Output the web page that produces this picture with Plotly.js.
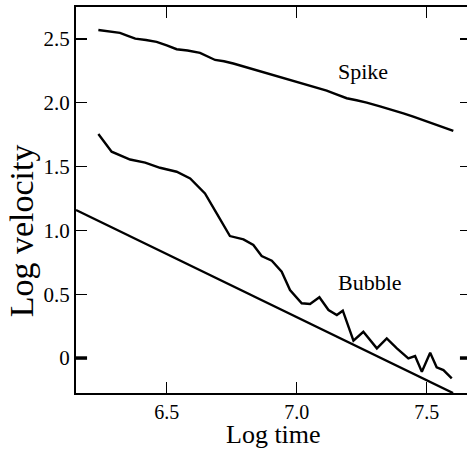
<!DOCTYPE html>
<html>
<head>
<meta charset="utf-8">
<script src="https://cdn.plot.ly/plotly-3.0.1.min.js"></script>
<style>
  html, body { margin: 0; padding: 0; overflow: hidden; background: #fff; }
  #chart { width: 475px; height: 449px; }
</style>
</head>
<body>
<div id="chart"></div>
<script>
// Spike curve (log time, log velocity)
const spikeX = [6.237, 6.28, 6.32, 6.35, 6.379, 6.42, 6.461, 6.50, 6.538, 6.58, 6.628, 6.686, 6.72, 6.756, 6.80, 6.846, 6.89, 6.936, 6.99, 7.038, 7.08, 7.115, 7.15, 7.192, 7.23, 7.269, 7.32, 7.372, 7.41, 7.448, 7.49, 7.525, 7.56, 7.602];
const spikeY = [2.571, 2.560, 2.548, 2.525, 2.503, 2.492, 2.478, 2.450, 2.420, 2.410, 2.392, 2.336, 2.326, 2.308, 2.282, 2.258, 2.232, 2.206, 2.175, 2.142, 2.120, 2.096, 2.068, 2.036, 2.020, 2.002, 1.972, 1.944, 1.918, 1.892, 1.862, 1.836, 1.812, 1.781];

// Bubble curve
const bubbleX = [6.237, 6.288, 6.359, 6.417, 6.474, 6.538, 6.590, 6.647, 6.692, 6.743, 6.795, 6.833, 6.865, 6.904, 6.942, 6.974, 7.019, 7.051, 7.087, 7.122, 7.154, 7.177, 7.218, 7.256, 7.308, 7.346, 7.385, 7.429, 7.455, 7.481, 7.513, 7.538, 7.564, 7.596];
const bubbleY = [1.755, 1.617, 1.556, 1.531, 1.491, 1.460, 1.408, 1.290, 1.134, 0.956, 0.930, 0.886, 0.799, 0.763, 0.677, 0.533, 0.429, 0.423, 0.476, 0.376, 0.337, 0.371, 0.136, 0.206, 0.076, 0.154, 0.076, -0.002, 0.016, -0.107, 0.042, -0.073, -0.094, -0.159];

// Straight reference line
const refX = [6.151, 7.601];
const refY = [1.160, -0.274];

// Tick values / labels
const xTickVals = [6.5, 7.0, 7.5];
const xTickText = ["6.5", "7.0", "7.5"];
const yTickVals = [0, 0.5, 1.0, 1.5, 2.0, 2.5];
const yTickText = ["0", "0.5", "1.0", "1.5", "2.0", "2.5"];

// Curve labels
const labelText = ["Spike", "Bubble"];
const labelX = [7.256, 7.282];
const labelY = [2.244, 0.590];

// Axis titles
const xTitle = "Log time";
const yTitle = "Log velocity";

const FONT = "Liberation Serif";
const lineStyle = { color: "#000", width: 2.4 };

const traces = [
  { x: spikeX, y: spikeY, type: "scatter", mode: "lines", line: lineStyle, hoverinfo: "skip" },
  { x: bubbleX, y: bubbleY, type: "scatter", mode: "lines", line: lineStyle, hoverinfo: "skip" },
  { x: refX, y: refY, type: "scatter", mode: "lines", line: lineStyle, hoverinfo: "skip" }
];

const annotations = labelText.map((t, i) => ({
  text: t, x: labelX[i], y: labelY[i], xref: "x", yref: "y",
  showarrow: false, font: { family: FONT, size: 22, color: "#000" }
}));
annotations.push({
  text: yTitle, textangle: -90, xref: "paper", yref: "y",
  x: -0.137, y: 1.0, xanchor: "center", yanchor: "middle", showarrow: false,
  font: { family: FONT, size: 34, color: "#000" }
});
annotations.push({
  text: xTitle, xref: "paper", yref: "paper",
  x: 0.5, y: -0.108, xanchor: "center", yanchor: "middle", showarrow: false,
  borderpad: 0,
  font: { family: FONT, size: 26, color: "#000" }
});

const layout = {
  width: 475, height: 449,
  margin: { l: 76, r: 4, t: 7, b: 56 },
  paper_bgcolor: "#fff", plot_bgcolor: "#fff",
  showlegend: false,
  font: { family: FONT, color: "#000" },
  xaxis: {
    range: [6.151, 7.670],
    tickvals: xTickVals, ticktext: xTickText,
    ticks: "inside", ticklen: 11, tickwidth: 1.3, tickcolor: "#000",
    showline: true, linecolor: "#000", linewidth: 2, mirror: "ticks",
    showgrid: false, zeroline: false,
    tickfont: { family: FONT, size: 20, color: "#000" },
    automargin: false
  },
  yaxis: {
    range: [-0.274, 2.751],
    tickvals: yTickVals, ticktext: yTickText,
    ticks: "inside", ticklen: 11, tickwidth: 1.3, tickcolor: "#000",
    showline: true, linecolor: "#000", linewidth: 2, mirror: "ticks",
    showgrid: false, zeroline: false,
    tickfont: { family: FONT, size: 21, color: "#000" },
    automargin: false
  },
  annotations: annotations,
  shapes: [
    { type: "line", xref: "paper", yref: "y", x0: 0, x1: 0.028, y0: 0, y1: 0, line: { color: "#000", width: 3.5 } },
    { type: "line", xref: "paper", yref: "y", x0: 0.972, x1: 1, y0: 0, y1: 0, line: { color: "#000", width: 3.5 } }
  ]
};

Plotly.newPlot("chart", traces, layout, { staticPlot: true, displayModeBar: false });
</script>
</body>
</html>
